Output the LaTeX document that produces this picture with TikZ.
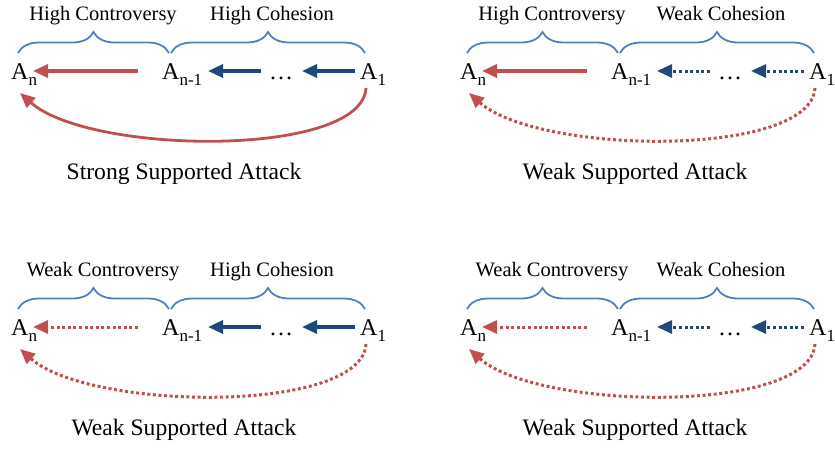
\documentclass[tikz,border=0pt]{standalone}
\usepackage{fontspec}
\setmainfont{Liberation Serif}
\usetikzlibrary{arrows.meta,decorations.pathreplacing}
\definecolor{attred}{HTML}{C0504D}
\definecolor{supblue}{HTML}{1F497D}
\definecolor{bracecol}{HTML}{4F81BD}
\newcommand\subtxt[1]{\raisebox{-6pt}{\fontsize{17}{17}\selectfont #1}}
\tikzset{
  bracestyle/.style={draw=bracecol, line width=1.8pt, decorate,
    decoration={brace, amplitude=21pt, aspect=0.5}},
  lbl/.style={anchor=base, inner sep=0pt, font=\fontsize{20.5}{24}\selectfont},
  att/.style={anchor=base west, inner sep=0pt, font=\fontsize{24}{28}\selectfont},
  captxt/.style={anchor=base, inner sep=0pt, font=\fontsize{23.6}{28}\selectfont},
  arrowtip/.style={-{Triangle[length=15pt,width=13pt]}},
  redsolid/.style={arrowtip, draw=attred, line width=3.3pt},
  reddot/.style={arrowtip, draw=attred, line width=3pt, dash pattern=on 3pt off 2.6pt},
  bluesolid/.style={arrowtip, draw=supblue, line width=3.3pt},
  bluedot/.style={arrowtip, draw=supblue, line width=3pt, dash pattern=on 3pt off 2.6pt},
  curvesolid/.style={arrowtip, draw=attred, line width=2.8pt},
  curvedot/.style={arrowtip, draw=attred, line width=3pt, dash pattern=on 3pt off 2.6pt},
}
\newcommand\mypanel[9]{%
\begin{scope}[shift={#2}]
  \draw[bracestyle] (18,53) -- (169,53);
  \draw[bracestyle] (171,53) -- (365,53);
  \node[lbl] (L#1) at (103,20) {#3};
  \node[lbl] (R#1) at (272,20) {#4};
  \node[att] (An#1) at (11,79) {A\subtxt{n}};
  \node[att] (Am#1) at (162,79) {A\subtxt{n-1}};
  \node[att, anchor=base] (D#1) at (281,79) {…};
  \node[att] (Ao#1) at (360,79) {A\subtxt{1}};
  \node[captxt] (C#1) at (#5,179) {#6};
  \draw[#7] ([shift={(-24,-8)}]Am#1.base west) -- ([shift={(22,-8)}]An#1.base west);
  \draw[#8] ([shift={(-20,-8)}]D#1.base) -- ([shift={(46,-8)}]Am#1.base west);
  \draw[#8] ([shift={(-5,-8)}]Ao#1.base west) -- ([shift={(21,-8)}]D#1.base);
  \draw[#9] ([shift={(6,9)}]Ao#1.base west) .. controls ([shift={(2,79)}]Ao#1.base west) and ([shift={(79,76)}]An#1.base west) .. ([shift={(9,14)}]An#1.base west);
\end{scope}}
\begin{document}
\begin{tikzpicture}[x=1pt,y=-1pt]
  \useasboundingbox (0,0) rectangle (835,451);
  \mypanel{a}{(0,0)}{High Controversy}{High Cohesion}{184}{Strong Supported Attack}{redsolid}{bluesolid}{curvesolid}
  \mypanel{b}{(449,0)}{High Controversy}{Weak Cohesion}{186}{Weak Supported Attack}{redsolid}{bluedot}{curvedot}
  \mypanel{c}{(0,256)}{Weak Controversy}{High Cohesion}{184}{Weak Supported Attack}{reddot}{bluesolid}{curvedot}
  \mypanel{d}{(449,256)}{Weak Controversy}{Weak Cohesion}{186}{Weak Supported Attack}{reddot}{bluedot}{curvedot}
\end{tikzpicture}
\end{document}
